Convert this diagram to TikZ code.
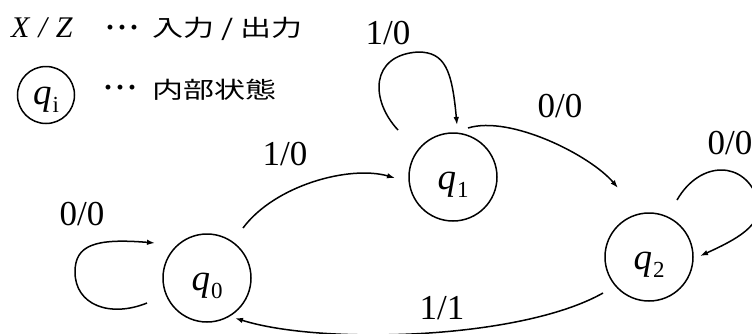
\documentclass[tikz,border=0pt]{standalone}
\usepackage{fontspec}
\setmainfont{Liberation Serif}
\newfontfamily\jpfont[FakeStretch=1.35]{Noto Sans CJK JP}
\usetikzlibrary{arrows.meta,calc}
\newcommand{\qsub}[1]{{\itshape q}\kern1pt\raisebox{-8pt}{\fontsize{23}{23}\selectfont #1}}
\newcommand{\mydots}{\textbf{·\kern2pt·\kern2pt·}}
\begin{document}
\begin{tikzpicture}[x=1pt,y=-1pt,
  state/.style={circle,draw,line width=1.5pt,minimum size=88pt,inner sep=0pt,font=\fontsize{37}{40}\selectfont},
  lbl/.style={anchor=base,inner sep=0pt,font=\fontsize{35}{40}\selectfont},
  legend/.style={anchor=base west,inner sep=0pt,font=\fontsize{30}{32}\selectfont},
  jp/.style={anchor=base west,inner sep=0pt,font=\jpfont\fontsize{23}{26}\selectfont},
  edge/.style={line width=1.5pt,-{Latex[length=8pt,width=5.5pt]}}]
\useasboundingbox (0,0) rectangle (752,333);
\clip (0,0) rectangle (752,333);

% legend
\node[legend] (xz) at (11,37) {\textit{X\kern9pt/\kern9pt Z}};
\node[legend] (d1) at (105,37) {\mydots};
\node[jp] (io) at (152,36.5) {入力 / 出力};
\node[state,minimum size=57pt] (qi) at (46,95) {\smash{\raisebox{-9pt}{\qsub{i}}}};
\node[legend] (d2) at (103,97) {\mydots};
\node[jp] (st) at (152,98.5) {内部状態};

% states
\node[state] (q0) at (207,278) {\smash{\raisebox{-12pt}{\qsub{0}}}};
\node[state] (q1) at (453,177) {\smash{\raisebox{-12pt}{\qsub{1}}}};
\node[state] (q2) at (649,257) {\smash{\raisebox{-12pt}{\qsub{2}}}};

% edges
\draw[edge] ($(q0)+(-60,25)$) .. controls (110,318) and (75,305) .. (75,272)
  .. controls (75,245) and (95,238) .. ($(q0)+(-52,-35)$);
\draw[edge] ($(q0)+(36,-50)$) .. controls (275,185) and (350,165) .. ($(q1)+(-58,1)$);
\draw[edge] ($(q1)+(-55,-47)$) .. controls (370,100) and (370,55) .. (418,52)
  .. controls (445,52) and (452,70) .. ($(q1)+(4,-52)$);
\draw[edge] ($(q1)+(15,-49)$) .. controls (510,115) and (590,155) .. ($(q2)+(-31,-69)$);
\draw[edge] ($(q2)+(28,-57)$) .. controls (700,160) and (745,160) .. (758,200)
  .. controls (765,225) and (735,240) .. ($(q2)+(51,-1)$);
\draw[edge] ($(q2)+(-46,36)$) .. controls (520,340) and (320,345) .. ($(q0)+(28,40)$);

% labels
\node[lbl] (l1) at (388,44) {1/0};
\node[lbl] (l2) at (560,117) {0/0};
\node[lbl] (l3) at (730,154) {0/0};
\node[lbl] (l4) at (285,165) {1/0};
\node[lbl] (l5) at (82,225) {0/0};
\node[lbl] (l6) at (442,319) {1/1};
\end{tikzpicture}
\end{document}
